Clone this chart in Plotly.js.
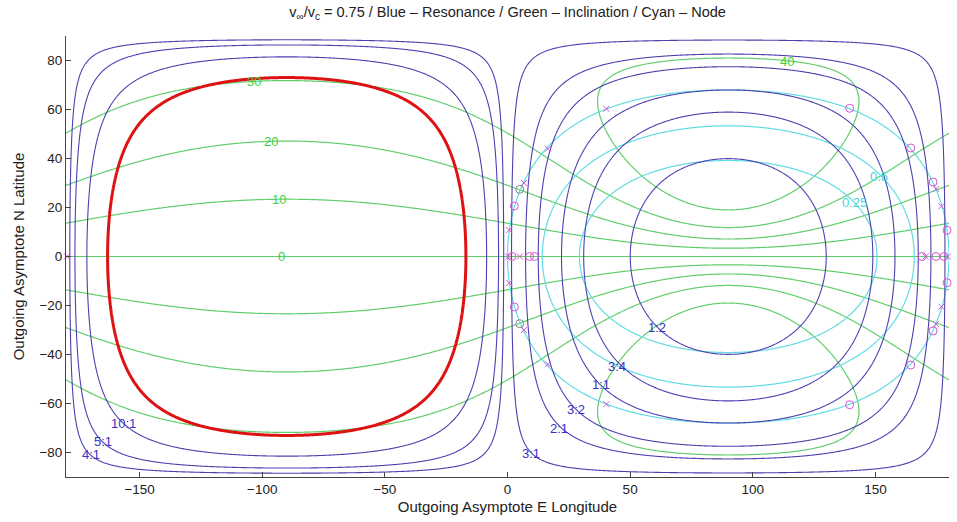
<!DOCTYPE html>
<html>
<head>
<meta charset="utf-8">
<script src="https://cdn.plot.ly/plotly-3.0.1.min.js"></script>
<style>html,body{margin:0;padding:0;background:#fff}#chart{width:957px;height:522px}</style>
</head>
<body>
<div id="chart"></div>
<script>
// ---- chart values ----
const vRatio = 0.75;                       // v_inf / v_c
const resonancePeriods = [0.5, 0.75, 1, 1.5, 2, 3, 4, 5, 10];   // spacecraft period / planet period
const resonanceLabels  = ["1:2", "3:4", "1:1", "3:2", "2:1", "3:1", "4:1", "5:1", "10:1"];
const resonanceLabelLon = [61, 44.5, 38, 27.8, 21, 9.5, -170, -165, -156.7];
const resonanceLabelLat = [-29, -45, -52.2, -62.4, -70, -80.4, -80.8, -75.5, -68];
const inclinationStart = -40, inclinationEnd = 40, inclinationStep = 10;   // deg
const inclinationLabels = ["0", "10", "20", "30", "40"];
const inclinationLabelLon = [-92, -93, -96.5, -103.5, 114];
const inclinationLabelLat = [0, 23.2, 47, 71.6, 79.6];
const nodeLevels = [0.25, 0.5, 1];         // node radius / planet orbit radius
const nodeLabels = ["0.25", "0.5"];
const nodeLabelLon = [141.5, 151.6];
const nodeLabelLat = [22, 32.8];
// return-flyby markers
const xMarkLon = [40.3, 40.3, 16.5, 16.5, 6.7, 6.7, 174.7, 174.7, 176.9, 176.9, 0.7, 0.7, 0.3, 5.0, 170.5, 179.5, -179.6];
const xMarkLat = [60.3, -60.3, 44.0, -44.0, 30.0, -30.0, 27.6, -27.6, 20.5, -20.5, 10.8, -10.8, 0, 0, 0, 0, 0];
const oMarkLon = [139.5, 139.5, 164.4, 164.4, 173.5, 173.5, 2.8, 2.8, 179.2, 179.2, 1.8, 9.0, 11.0, 169.0, 174.7, 178.0];
const oMarkLat = [60.5, -60.5, 44.3, -44.3, 30.4, -30.4, 20.6, -20.6, 10.7, -10.7, 0, 0, 0, 0, 0, 0];
const gMarkLon = [5.0, 5.0];
const gMarkLat = [27.4, -27.4];

// ---- grid of outgoing asymptote directions ----
const lonGrid = [], latGrid = [];
for (let i = 0; i <= 720; i++) lonGrid.push(-180 + i * 0.5);
for (let j = 0; j < 360; j++) latGrid.push(-89.75 + j * 0.5);
const d2r = Math.PI / 180, k = vRatio;
const invA = [], incl = [], nodeF = [];
for (let j = 0; j < latGrid.length; j++) {
  const la = latGrid[j] * d2r;
  const rA = [], rI = [], rN = [];
  for (let i = 0; i < lonGrid.length; i++) {
    const lo = lonGrid[i] * d2r;
    const c = Math.cos(la) * Math.sin(lo);
    const vy = 1 - k * c, vz = k * Math.sin(la);
    rA.push(1 - k * k + 2 * k * c);                 // 1/a  (a in planet orbit radii)
    rI.push(Math.atan2(vz, vy) / d2r);              // inclination (signed)
    const p = vy * vy + vz * vz;                    // semi-latus rectum
    rN.push(p < 2 ? Math.log2(p / (2 - p)) : 10);   // log2 of opposite-node radius
  }
  invA.push(rA); incl.push(rI); nodeF.push(rN);
}

const BLUE = "rgb(76,64,176)", GREEN = "rgb(96,206,106)", CYAN = "rgb(96,220,226)";
const RED = "rgb(222,18,18)", MAG = "rgb(214,84,214)";

function contourTrace(z, start, end, size, color, width) {
  return {type: "contour", x: lonGrid, y: latGrid, z: z, autocontour: false,
    contours: {start: start, end: end, size: size, coloring: "none", showlabels: false},
    line: {color: color, width: width, smoothing: 0.6}, showscale: false, hoverinfo: "skip"};
}

const traces = [];
traces.push(contourTrace(incl, inclinationStart, inclinationEnd, inclinationStep, GREEN, 1.2));
traces.push(contourTrace(nodeF, Math.log2(nodeLevels[0]), Math.log2(nodeLevels[nodeLevels.length - 1]), 1, CYAN, 1.2));
resonancePeriods.forEach(P => {
  const lv = Math.pow(P, -2 / 3);
  traces.push(contourTrace(invA, lv, lv, 1, BLUE, 1.1));
});
traces.push(contourTrace(invA, 0, 0, 1, RED, 3));   // escape boundary (a -> infinity)

traces.push({type: "scatter", mode: "markers", x: xMarkLon, y: xMarkLat, cliponaxis: false, hoverinfo: "skip",
  marker: {symbol: "x-thin", size: 6, color: MAG, line: {color: MAG, width: 1}}});
traces.push({type: "scatter", mode: "markers", x: oMarkLon, y: oMarkLat, cliponaxis: false, hoverinfo: "skip",
  marker: {symbol: "circle-open", size: 8, color: MAG, line: {color: MAG, width: 1}}});
traces.push({type: "scatter", mode: "markers", x: gMarkLon, y: gMarkLat, cliponaxis: false, hoverinfo: "skip",
  marker: {symbol: "circle-open", size: 8, color: "rgb(130,130,130)", line: {color: "rgb(130,130,130)", width: 1}}});

const FONT = "Liberation Sans, Arial, sans-serif";
const annotations = [];
function addLabels(texts, lons, lats, color) {
  texts.forEach((t, i) => annotations.push({x: lons[i], y: lats[i], xref: "x", yref: "y", text: t,
    showarrow: false, font: {family: FONT, size: 13, color: color}}));
}
addLabels(resonanceLabels, resonanceLabelLon, resonanceLabelLat, "rgb(58,48,200)");
addLabels(inclinationLabels, inclinationLabelLon, inclinationLabelLat, "rgb(60,212,60)");
addLabels(nodeLabels, nodeLabelLon, nodeLabelLat, "rgb(70,214,224)");

const layout = {
  width: 957, height: 522,
  margin: {l: 66, r: 8, t: 36, b: 45},
  paper_bgcolor: "#fff", plot_bgcolor: "#fff",
  showlegend: false,
  font: {family: FONT, size: 13, color: "#222"},
  title: {text: "v<sub>∞</sub>/v<sub>c</sub> = 0.75 / Blue – Resonance / Green – Inclination / Cyan – Node",
    x: 0.5, xref: "paper", y: 1 - 12 / 522, yref: "container", yanchor: "middle",
    font: {family: FONT, size: 14.5, color: "#222"}},
  xaxis: {range: [-180, 180], tickvals: [-150, -100, -50, 0, 50, 100, 150], ticks: "inside", ticklen: 5,
    tickcolor: "#444", showline: true, linecolor: "#444", linewidth: 1, showgrid: false, zeroline: false,
    tickfont: {family: FONT, size: 13.5, color: "#222"},
    title: {text: "Outgoing Asymptote E Longitude", standoff: 5, font: {family: FONT, size: 15, color: "#222"}}},
  yaxis: {range: [-90, 90], tickvals: [-80, -60, -40, -20, 0, 20, 40, 60, 80], ticks: "inside", ticklen: 5,
    tickcolor: "#444", showline: true, linecolor: "#444", linewidth: 1, showgrid: false, zeroline: false,
    tickfont: {family: FONT, size: 13.5, color: "#222"},
    title: {text: "Outgoing Asymptote N Latitude", standoff: 11, font: {family: FONT, size: 15, color: "#222"}}},
  annotations: annotations
};
Plotly.newPlot("chart", traces, layout, {displayModeBar: false, staticPlot: true});
</script>
</body>
</html>
